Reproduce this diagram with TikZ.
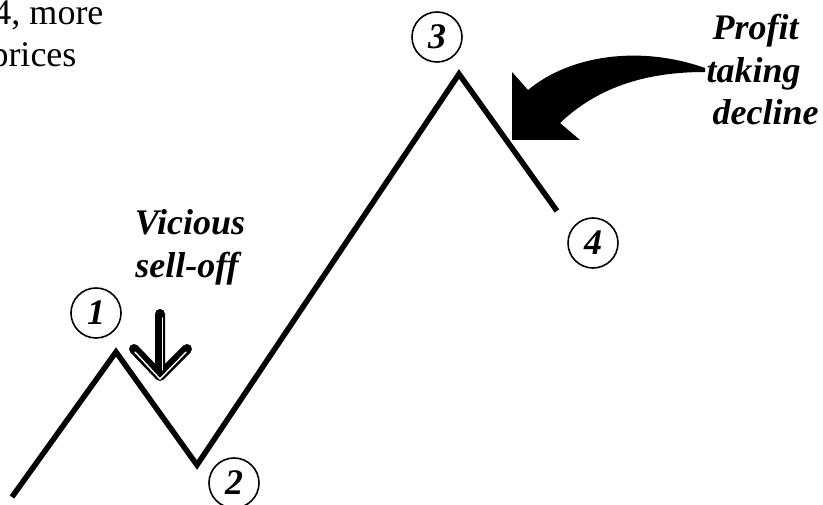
\documentclass[tikz,border=0pt]{standalone}
\usepackage{fontspec}
\setmainfont{Liberation Serif}
\begin{document}
\begin{tikzpicture}[x=1pt,y=-1pt,
  zig/.style={line width=5.5pt,line join=miter,line cap=butt},
  numcirc/.style={circle,draw,line width=1.6pt,minimum size=50pt,inner sep=0pt,
    font=\fontsize{36}{40}\selectfont\bfseries\itshape},
  lbl/.style={anchor=base,font=\fontsize{36}{43}\selectfont\bfseries\itshape},
  lblw/.style={anchor=base west,font=\fontsize{36}{43}\selectfont\bfseries\itshape},
  toptext/.style={anchor=base east,font=\fontsize{36}{42}\selectfont}]
\useasboundingbox (0,0) rectangle (823,505);
% zigzag
\coordinate (s) at (12,497);
\coordinate (p1) at (116,352);
\coordinate (t2) at (197,465);
\coordinate (p3) at (459,74);
\coordinate (e4) at (557,211);
\draw[zig] (s) -- (p1) -- (t2) -- (p3) -- (e4);
% numbered circles
\node[numcirc] (c1) at (96,313) {1};
\node[numcirc] (c2) at (234,483) {2};
\node[numcirc] (c3) at (437,37) {3};
\node[numcirc] (c4) at (593,243) {4};
% top-left cut text
\node[toptext] (t1) at (107,25) {4, more};
\node[toptext] (t2b) at (80,67) {prices};
% labels
\node[lbl] (vic1) at (190,235) {Vicious};
\node[lbl] (vic2) at (187,278) {sell-off};
\node[lblw] (pro1) at (709,40) {Profit};
\node[lblw] (pro2) at (703,83) {taking};
\node[lblw] (pro3) at (709,125) {decline};
% vicious sell-off arrow
\coordinate (aT) at (160,314);
\coordinate (aB) at (160,376);
\coordinate (aL) at (134,349);
\coordinate (aR) at (187,349);
\draw[line width=10pt,line cap=round,line join=round] (aT) -- (aB) (aL) -- (aB) -- (aR);
\draw[white,line width=1.4pt,line cap=round] ([shift={(2.5,4)}]aT) -- ([shift={(2.5,-6)}]aB);
\draw[white,line width=1.4pt,line cap=round] ([shift={(1,3)}]aL) -- ([shift={(0,3)}]aB) -- ([shift={(-1,3)}]aR);
% profit taking curved arrow
\fill (705,68) .. controls (640,45) and (570,55) .. (528,90)
  -- (512,72) -- (512,140) -- (580,140) -- (560,123)
  .. controls (600,85) and (650,72) .. (705,72) -- cycle;
\end{tikzpicture}
\end{document}
